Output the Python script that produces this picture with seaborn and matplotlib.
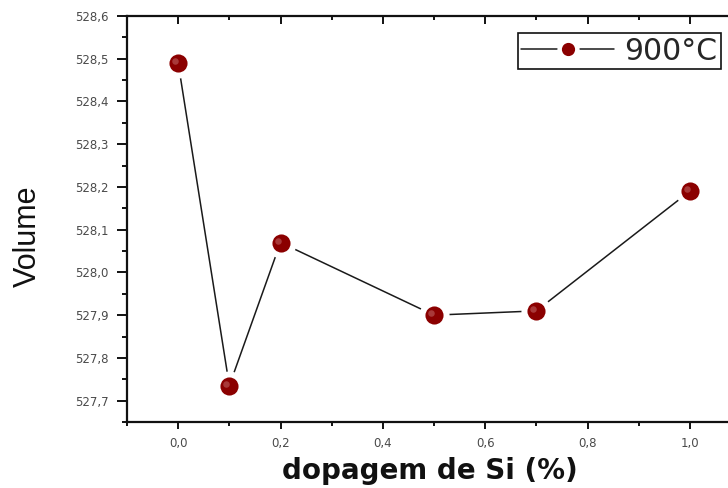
import numpy as np
import pandas as pd
import seaborn as sns
import matplotlib
matplotlib.use("Agg")
import matplotlib.pyplot as plt
from matplotlib.ticker import MultipleLocator, FuncFormatter
from matplotlib.lines import Line2D
from matplotlib.transforms import offset_copy

# Unit-cell volume vs. Si doping, sample annealed at 900 °C
doping = [0.0, 0.1, 0.2, 0.5, 0.7, 1.0]
volume = [528.49, 527.735, 528.07, 527.90, 527.91, 528.19]
series_label = "900°C"
x_label = "dopagem de Si (%)"
y_label = "Volume"

df = pd.DataFrame({"dopagem": doping, "volume": volume})

sns.set_theme(style="white")
plt.rcParams["font.family"] = ["Liberation Sans", "DejaVu Sans"]

W, H = 728, 488
fig = plt.figure(figsize=(W / 100, H / 100), dpi=100)
# axes run past the right edge of the canvas, so the right spine is cut off
ax = fig.add_axes([127 / W, (H - 422) / H, 614 / W, (422 - 16) / H])

line_color = "#1a1a1a"
marker_color = "#8b0000"

sns.lineplot(data=df, x="dopagem", y="volume", color=line_color, lw=1.1,
             ax=ax, zorder=2, legend=False)
# white halo leaves a small gap between the line and each marker
sns.scatterplot(data=df, x="dopagem", y="volume", s=470, color="white",
                linewidth=0, ax=ax, zorder=3, legend=False)
sns.scatterplot(data=df, x="dopagem", y="volume", s=170, color=marker_color,
                linewidth=0, ax=ax, zorder=4, legend=False)
# soft glossy highlight on each sphere
sns.scatterplot(data=df, x="dopagem", y="volume", s=22, color="#b04848",
                linewidth=0, alpha=0.8, ax=ax, zorder=5, legend=False)
ax.collections[-1].set_offset_transform(
    offset_copy(ax.transData, fig=fig, x=-3, y=2, units="dots"))

ax.set_xlim(-0.1, 1.1)
ax.set_ylim(527.65, 528.6)

ax.xaxis.set_major_locator(MultipleLocator(0.2))
ax.xaxis.set_minor_locator(MultipleLocator(0.1))
ax.yaxis.set_major_locator(MultipleLocator(0.1))
ax.yaxis.set_minor_locator(MultipleLocator(0.05))

comma = FuncFormatter(lambda v, p: f"{v:.1f}".replace(".", ","))
ax.xaxis.set_major_formatter(comma)
ax.yaxis.set_major_formatter(comma)

for side in ["left", "bottom", "top", "right"]:
    ax.spines[side].set_visible(True)
    ax.spines[side].set_color("#111111")
    ax.spines[side].set_linewidth(1.6)

ax.tick_params(axis="both", which="both", colors="#111111", labelcolor="#4a4a4a",
               width=1.4)
ax.tick_params(axis="y", which="major", direction="out", length=7, left=True,
               right=False, pad=6)
ax.tick_params(axis="y", which="minor", direction="out", length=3.5, left=True,
               right=False)
ax.tick_params(axis="x", which="major", direction="out", length=5, bottom=True,
               top=False, pad=6)
ax.tick_params(axis="x", which="minor", direction="out", length=3, bottom=True,
               top=False)
for lab in ax.get_xticklabels() + ax.get_yticklabels():
    lab.set_fontfamily("DejaVu Sans")
    lab.set_fontsize(8.5)

# top axis: inward ticks, no labels
top = ax.secondary_xaxis("top")
top.xaxis.set_major_locator(MultipleLocator(0.2))
top.xaxis.set_minor_locator(MultipleLocator(0.1))
top.tick_params(axis="x", which="major", direction="in", length=6, width=1.4,
                labeltop=False, colors="#111111")
top.tick_params(axis="x", which="minor", direction="in", length=3, width=1.4,
                colors="#111111")
top.spines["top"].set_visible(False)

ax.set_xlabel(x_label, fontsize=20, fontweight="bold", color="#111111",
              fontfamily=["DejaVu Sans"])
ax.xaxis.set_label_coords((430 - 127) / 614, -(457 - 422) / 406)
ax.xaxis.label.set_va("top")
ax.set_ylabel(y_label, fontsize=22, color="#111111",
              fontfamily=["Liberation Sans Narrow", "Liberation Sans"])
ax.yaxis.set_label_coords(-(127 - 43) / 614, (422 - 236) / 406)

handle = (Line2D([], [], color=line_color, lw=1.1),
          Line2D([], [], ls="none", marker="o", ms=16, mfc="white", mec="none"),
          Line2D([], [], ls="none", marker="o", ms=9.5, mfc=marker_color, mec="none"))
leg = fig.legend([handle], [series_label], loc="upper right",
                 bbox_to_anchor=(721 / W, 1 - 33 / H), frameon=True, fancybox=False,
                 framealpha=1, edgecolor="#111111", handlelength=3.1,
                 prop={"family": ["DejaVu Sans"], "size": 21.5},
                 handletextpad=0.35, borderpad=0.12, borderaxespad=0)
leg.get_frame().set_linewidth(1.2)

fig.savefig("out.png", dpi=100)
